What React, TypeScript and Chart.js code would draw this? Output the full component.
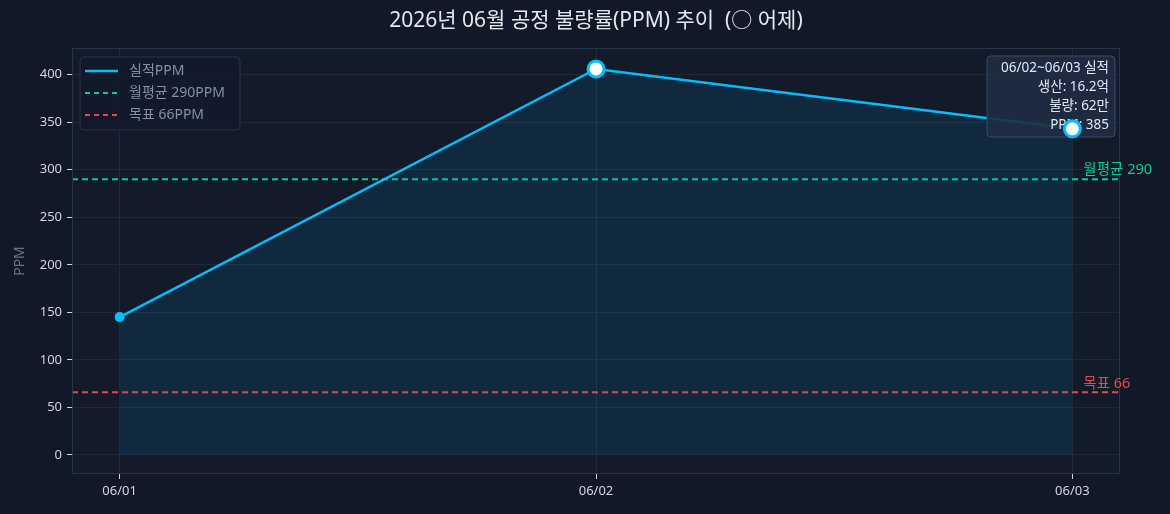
import React, { useEffect, useRef } from "react";
import { Chart, registerables } from "chart.js";

Chart.register(...registerables);

const categories = ["06/01", "06/02", "06/03"];
const ppmValues = [145, 406, 343];
const highlightIdx = [1, 2];
const monthlyAvg = 290;
const target = 66;
const yTicks = [0, 50, 100, 150, 200, 250, 300, 350, 400];
const titleText = "2026년 06월 공정 불량률(PPM) 추이  (○ 어제)";
const legendLabels = ["실적PPM", "월평균 290PPM", "목표 66PPM"];
const infoLines = ["06/02~06/03 실적", "생산: 16.2억", "불량: 62만", "PPM: 385"];
const avgLabel = "월평균 290";
const targetLabel = "목표 66";

const FONT = "'Noto Sans', 'Noto Sans CJK KR', sans-serif";
const CYAN = "#00bfff";
const GREEN = "#10c98f";
const RED = "#e5484d";
const FIG_BG = "#111827";
const PLOT_BG = "#131a2a";
const GRID = "#1e293b";
const BORDER = "#27344c";

function roundRect(ctx: CanvasRenderingContext2D, x: number, y: number, w: number, h: number, r: number) {
  ctx.beginPath();
  ctx.moveTo(x + r, y);
  ctx.lineTo(x + w - r, y);
  ctx.quadraticCurveTo(x + w, y, x + w, y + r);
  ctx.lineTo(x + w, y + h - r);
  ctx.quadraticCurveTo(x + w, y + h, x + w - r, y + h);
  ctx.lineTo(x + r, y + h);
  ctx.quadraticCurveTo(x, y + h, x, y + h - r);
  ctx.lineTo(x, y + r);
  ctx.quadraticCurveTo(x, y, x + r, y);
  ctx.closePath();
}

const decorPlugin = {
  id: "decor",
  beforeDraw(chart: any) {
    const { ctx, chartArea: a, width, height } = chart;
    ctx.save();
    ctx.fillStyle = FIG_BG;
    ctx.fillRect(0, 0, width, height);
    ctx.fillStyle = PLOT_BG;
    ctx.fillRect(a.left, a.top, a.right - a.left, a.bottom - a.top);
    ctx.restore();
  },
  afterDatasetDraw(chart: any, args: any) {
    if (args.index !== 1) return;
    const { ctx, chartArea: a } = chart;
    ctx.save();
    const bx = a.right - 133, by = a.top + 8, bw = 128, bh = 81;
    roundRect(ctx, bx, by, bw, bh, 4);
    ctx.fillStyle = "rgba(31,44,66,0.9)";
    ctx.fill();
    ctx.strokeStyle = "#3a4a66";
    ctx.lineWidth = 1;
    ctx.stroke();
    ctx.font = `13.5px ${FONT}`;
    ctx.fillStyle = "#e2e8f0";
    ctx.textAlign = "right";
    ctx.textBaseline = "middle";
    infoLines.forEach((t, i) => ctx.fillText(t, bx + bw - 6, by + 12 + i * 19));
    ctx.restore();
  },
  afterDraw(chart: any) {
    const { ctx, chartArea: a, scales } = chart;
    ctx.save();
    ctx.strokeStyle = BORDER;
    ctx.lineWidth = 1;
    ctx.strokeRect(a.left + 0.5, a.top + 0.5, a.right - a.left - 1, a.bottom - a.top - 1);
    ctx.font = `21px ${FONT}`;
    ctx.fillStyle = "#e5e7eb";
    ctx.textAlign = "center";
    ctx.textBaseline = "middle";
    ctx.fillText(titleText, (a.left + a.right) / 2, 21);
    ctx.save();
    ctx.translate(20, (a.top + a.bottom) / 2);
    ctx.rotate(-Math.PI / 2);
    ctx.font = `14px ${FONT}`;
    ctx.fillStyle = "#6b7280";
    ctx.fillText("PPM", 0, 0);
    ctx.restore();
    ctx.font = `14.5px ${FONT}`;
    ctx.textAlign = "left";
    ctx.fillStyle = GREEN;
    const x3 = scales.x.getPixelForValue(2);
    ctx.fillText(avgLabel, x3 + 11, scales.y.getPixelForValue(monthlyAvg) - 9);
    ctx.fillStyle = RED;
    ctx.fillText(targetLabel, x3 + 11, scales.y.getPixelForValue(target) - 8);
    const lx = a.left + 8, ly = a.top + 9, lw = 160, lh = 73;
    roundRect(ctx, lx, ly, lw, lh, 4);
    ctx.fillStyle = "rgba(19,26,42,0.85)";
    ctx.fill();
    ctx.strokeStyle = "#27344c";
    ctx.stroke();
    const colors = [CYAN, GREEN, RED];
    legendLabels.forEach((t, i) => {
      const yy = ly + 14 + i * 22;
      ctx.strokeStyle = colors[i];
      ctx.lineWidth = i === 0 ? 2.5 : 2;
      ctx.setLineDash(i === 0 ? [] : [5, 4]);
      ctx.beginPath();
      ctx.moveTo(lx + 5, yy);
      ctx.lineTo(lx + 38, yy);
      ctx.stroke();
      ctx.setLineDash([]);
      ctx.fillStyle = "#8591a3";
      ctx.font = `14px ${FONT}`;
      ctx.textAlign = "left";
      ctx.fillText(t, lx + 49, yy);
    });
    ctx.restore();
  },
};

export default function App() {
  const ref = useRef<HTMLCanvasElement>(null);
  useEffect(() => {
    if (!ref.current) return;
    const lineData = ppmValues.map((v, i) => ({ x: i, y: v }));
    const markerData = highlightIdx.map((i) => ({ x: i, y: ppmValues[i] }));
    const chart = new Chart(ref.current, {
      type: "line",
      data: {
        datasets: [
          {
            label: "어제",
            data: markerData,
            showLine: false,
            pointRadius: 8,
            pointBackgroundColor: "#ffffff",
            pointBorderColor: CYAN,
            pointBorderWidth: 3,
            order: 0,
          },
          {
            label: legendLabels[0],
            data: lineData,
            borderColor: CYAN,
            borderWidth: 2.5,
            pointRadius: 5,
            pointBackgroundColor: CYAN,
            pointBorderWidth: 0,
            fill: "origin",
            backgroundColor: "rgba(0,160,220,0.12)",
            tension: 0,
            order: 1,
          },
          {
            label: legendLabels[1],
            data: [{ x: -0.1, y: monthlyAvg }, { x: 2.1, y: monthlyAvg }],
            borderColor: GREEN,
            borderWidth: 2,
            borderDash: [6, 4],
            pointRadius: 0,
            fill: false,
            order: 2,
          },
          {
            label: legendLabels[2],
            data: [{ x: -0.1, y: target }, { x: 2.1, y: target }],
            borderColor: RED,
            borderWidth: 2,
            borderDash: [6, 4],
            pointRadius: 0,
            fill: false,
            order: 3,
          },
        ],
      },
      options: {
        animation: false,
        responsive: false,
        devicePixelRatio: 1,
        layout: { padding: { top: 48, right: 50, left: 0, bottom: 0 } },
        plugins: { legend: { display: false }, tooltip: { enabled: false }, title: { display: false } },
        scales: {
          x: {
            type: "linear",
            min: -0.1,
            max: 2.1,
            afterBuildTicks: (s: any) => {
              s.ticks = categories.map((_, i) => ({ value: i }));
            },
            afterFit: (s: any) => {
              s.height = 40;
            },
            ticks: {
              callback: (v: any) => categories[v as number] ?? "",
              color: "#d1d5db",
              font: { family: FONT, size: 13 },
              padding: 4,
              maxRotation: 0,
            },
            grid: { color: GRID, tickColor: "#d1d5db", tickLength: 5, lineWidth: 1 },
            border: { display: false },
          },
          y: {
            min: -20,
            max: 428,
            afterBuildTicks: (s: any) => {
              s.ticks = yTicks.map((v) => ({ value: v }));
            },
            afterFit: (s: any) => {
              s.width = 72;
            },
            ticks: {
              color: "#d1d5db",
              font: { family: FONT, size: 13 },
              padding: 5,
            },
            grid: { color: GRID, tickColor: "#d1d5db", tickLength: 5, lineWidth: 1 },
            border: { display: false },
          },
        },
      },
      plugins: [decorPlugin],
    } as any);
    return () => chart.destroy();
  }, []);
  return (
    <div style={{ position: "fixed", left: 0, top: 0, width: 1170, height: 514, background: FIG_BG }}>
      <canvas ref={ref} width={1170} height={514} style={{ display: "block", width: 1170, height: 514 }} />
    </div>
  );
}
